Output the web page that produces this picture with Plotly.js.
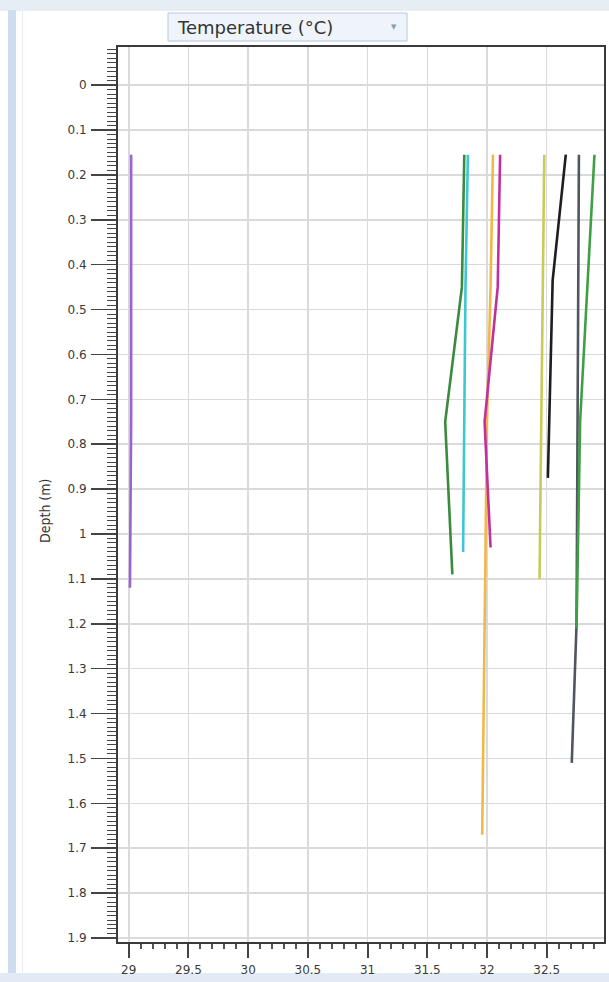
<!DOCTYPE html>
<html>
<head>
<meta charset="utf-8">
<script src="https://cdn.plot.ly/plotly-3.0.1.min.js"></script>
<style>
  html, body { margin: 0; padding: 0; background: #ffffff; }
  #chart { width: 609px; height: 982px; }
</style>
</head>
<body>
<div id="chart"></div>
<script>
// Temperature profiles (°C) versus depth (m)
const purpleTemp  = [29.02, 29.02, 29.01];
const purpleDepth = [0.155, 0.75, 1.12];

const darkGreenTemp  = [31.81, 31.79, 31.65, 31.71];
const darkGreenDepth = [0.155, 0.45, 0.75, 1.09];

const cyanTemp  = [31.84, 31.82, 31.80];
const cyanDepth = [0.155, 0.45, 1.04];

const orangeTemp  = [32.05, 32.03, 32.00, 31.99, 31.97, 31.96];
const orangeDepth = [0.155, 0.45, 0.75, 1.00, 1.35, 1.67];

const magentaTemp  = [32.11, 32.09, 31.98, 32.03];
const magentaDepth = [0.155, 0.45, 0.75, 1.03];

const yellowTemp  = [32.48, 32.44];
const yellowDepth = [0.155, 1.10];

const blackTemp  = [32.66, 32.55, 32.51];
const blackDepth = [0.155, 0.435, 0.875];

const grayTemp  = [32.77, 32.76, 32.75, 32.71];
const grayDepth = [0.155, 0.75, 1.20, 1.51];

const greenTemp  = [32.90, 32.78, 32.75];
const greenDepth = [0.155, 0.75, 1.21];

const titleText = "Temperature (°C)";
const yTitleText = "Depth (m)";

const series = [
  {x: purpleTemp,    y: purpleDepth,    c: "#9a62d2"},
  {x: darkGreenTemp, y: darkGreenDepth, c: "#3b8a3e"},
  {x: cyanTemp,      y: cyanDepth,      c: "#3ec6d2"},
  {x: orangeTemp,    y: orangeDepth,    c: "#f0b849"},
  {x: magentaTemp,   y: magentaDepth,   c: "#c2309e"},
  {x: yellowTemp,    y: yellowDepth,    c: "#c8cb58"},
  {x: blackTemp,     y: blackDepth,     c: "#1e1e1e"},
  {x: grayTemp,      y: grayDepth,      c: "#50565f"},
  {x: greenTemp,     y: greenDepth,     c: "#3f9f45"}
];

const traces = series.map(s => ({
  type: "scatter", mode: "lines", x: s.x, y: s.y,
  line: {color: s.c, width: 2.6}, hoverinfo: "x+y"
}));
// empty carrier so the fine-tick overlay axis is drawn
traces.unshift({type: "scatter", mode: "lines", x: [], y: [], yaxis: "y2", hoverinfo: "skip"});

// pixel helpers for paper coordinates (plot area: x 118..604, y 47..942)
const L = 118, R = 604, T = 47, B = 942;
const px = v => (v - L) / (R - L);
const py = v => (B - v) / (B - T);

const yRange = [1.909, -0.085];
const tickFont = {family: "DejaVu Sans, Verdana, sans-serif", size: 12, color: "#3a3a3a"};

const layout = {
  width: 609, height: 982,
  margin: {l: L, r: 609 - R, t: T, b: 982 - B, pad: 0},
  paper_bgcolor: "#ffffff", plot_bgcolor: "#ffffff",
  showlegend: false,
  xaxis: {
    range: [28.91, 32.98],
    tick0: 29, dtick: 0.5,
    ticks: "outside", ticklen: 14, tickwidth: 2, tickcolor: "#444",
    minor: {dtick: 0.1, ticks: "outside", ticklen: 5, tickwidth: 2, tickcolor: "#555", showgrid: false},
    showgrid: true, gridcolor: "#dadada", gridwidth: 1.5,
    showline: true, linecolor: "#3a3a3a", linewidth: 2, mirror: true,
    zeroline: false, tickfont: tickFont, ticklabelstandoff: 2
  },
  yaxis: {
    range: yRange,
    tick0: 0, dtick: 0.1,
    ticks: "outside", ticklen: 25, tickwidth: 1.5, tickcolor: "#444",
    showgrid: true, gridcolor: "#dadada", gridwidth: 1.5,
    showline: true, linecolor: "#3a3a3a", linewidth: 2, mirror: true,
    zeroline: false, tickfont: tickFont, ticklabelstandoff: 2
  },
  // fine comb of minor depth ticks (every 0.01 m)
  yaxis2: {
    overlaying: "y", anchor: "x", side: "left",
    range: yRange, tickmode: "linear", tick0: 0, dtick: 0.01,
    ticks: "outside", ticklen: 10, tickwidth: 1, tickcolor: "#444",
    showticklabels: false, showgrid: false, showline: false, zeroline: false
  },
  shapes: [
    // window frame decorations
    {type: "rect", xref: "paper", yref: "paper", x0: px(0), x1: px(609), y0: py(0), y1: py(11),
     fillcolor: "#e6edf3", line: {width: 0}, layer: "below"},
    {type: "rect", xref: "paper", yref: "paper", x0: px(8), x1: px(16), y0: py(10), y1: py(973),
     fillcolor: "#cddcee", line: {width: 0}, layer: "below"},
    {type: "rect", xref: "paper", yref: "paper", x0: px(22), x1: px(23), y0: py(10), y1: py(973),
     fillcolor: "#e6edf5", line: {width: 0}, layer: "below"},
    {type: "rect", xref: "paper", yref: "paper", x0: px(0), x1: px(609), y0: py(973), y1: py(982),
     fillcolor: "#e1eaf5", line: {width: 0}, layer: "below"},
    // title selector box
    {type: "rect", xref: "paper", yref: "paper", x0: px(168), x1: px(407), y0: py(41), y1: py(13),
     fillcolor: "#eef4fa", line: {color: "#b6c8da", width: 1}}
  ],
  annotations: [
    {xref: "paper", yref: "paper", x: px(175), y: py(27), xanchor: "left", yanchor: "middle",
     text: titleText, showarrow: false,
     font: {family: "DejaVu Sans, Verdana, sans-serif", size: 18, color: "#333333"}},
    {xref: "paper", yref: "paper", x: px(394), y: py(27), xanchor: "center", yanchor: "middle",
     text: "▼", showarrow: false,
     font: {family: "DejaVu Sans, sans-serif", size: 7, color: "#8a9bb0"}},
    {xref: "paper", yref: "paper", x: px(45), y: py(511), xanchor: "center", yanchor: "middle",
     text: yTitleText, textangle: -90, showarrow: false,
     font: {family: "DejaVu Sans Condensed, DejaVu Sans, sans-serif", size: 14, color: "#333333"}}
  ]
};

Plotly.newPlot("chart", traces, layout, {staticPlot: true, displayModeBar: false});
</script>
</body>
</html>
